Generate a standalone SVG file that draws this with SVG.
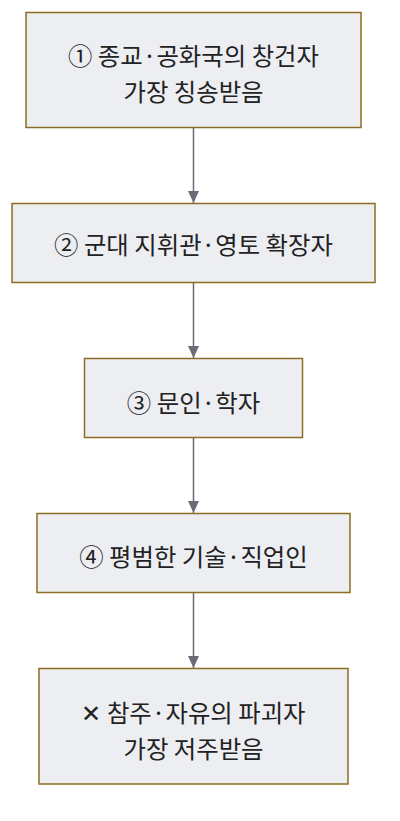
<svg xmlns="http://www.w3.org/2000/svg" width="400" height="821" viewBox="0 0 400 821">
<defs>
<style>
.box{fill:#eceef2;stroke:#8c6d23;stroke-width:1.5}
.lbl{font-family:"Noto Sans CJK KR","Noto Sans",sans-serif;font-size:24.4px;fill:#222;text-anchor:middle;dominant-baseline:central}
.edge{stroke:#6b6b78;stroke-width:1.5;fill:none}
</style>
<marker id="arr" markerWidth="12" markerHeight="11" refX="12" refY="5.5" orient="auto" markerUnits="userSpaceOnUse">
<path d="M0,0 L12,5.5 L0,11 Z" fill="#6b6b78"/>
</marker>
</defs>
<rect width="400" height="821" fill="#ffffff"/>
<g id="connectors">
<line class="edge" x1="193.5" y1="127.5" x2="193.5" y2="203" marker-end="url(#arr)"/>
<line class="edge" x1="193.5" y1="282.5" x2="193.5" y2="358" marker-end="url(#arr)"/>
<line class="edge" x1="193.5" y1="437.5" x2="193.5" y2="513" marker-end="url(#arr)"/>
<line class="edge" x1="193.5" y1="592.5" x2="193.5" y2="668" marker-end="url(#arr)"/>
</g>
<g id="n1">
<rect class="box" x="26" y="12.5" width="335" height="115"/>
<text class="lbl" x="193.5" y="54">① 종교·공화국의 창건자</text>
<text class="lbl" x="193.5" y="90">가장 칭송받음</text>
</g>
<g id="n2">
<rect class="box" x="12" y="203.5" width="363" height="79"/>
<text class="lbl" x="193.5" y="243">② 군대 지휘관·영토 확장자</text>
</g>
<g id="n3">
<rect class="box" x="84.5" y="358.5" width="218" height="79"/>
<text class="lbl" x="193.5" y="401.5">③ 문인·학자</text>
</g>
<g id="n4">
<rect class="box" x="37" y="513.5" width="313" height="79"/>
<text class="lbl" x="193.5" y="555">④ 평범한 기술·직업인</text>
</g>
<g id="n5">
<rect class="box" x="39" y="668.5" width="309" height="115.5"/>
<text class="lbl" x="193.5" y="711.5">✕ 참주·자유의 파괴자</text>
<text class="lbl" x="193.5" y="747">가장 저주받음</text>
</g>
</svg>
